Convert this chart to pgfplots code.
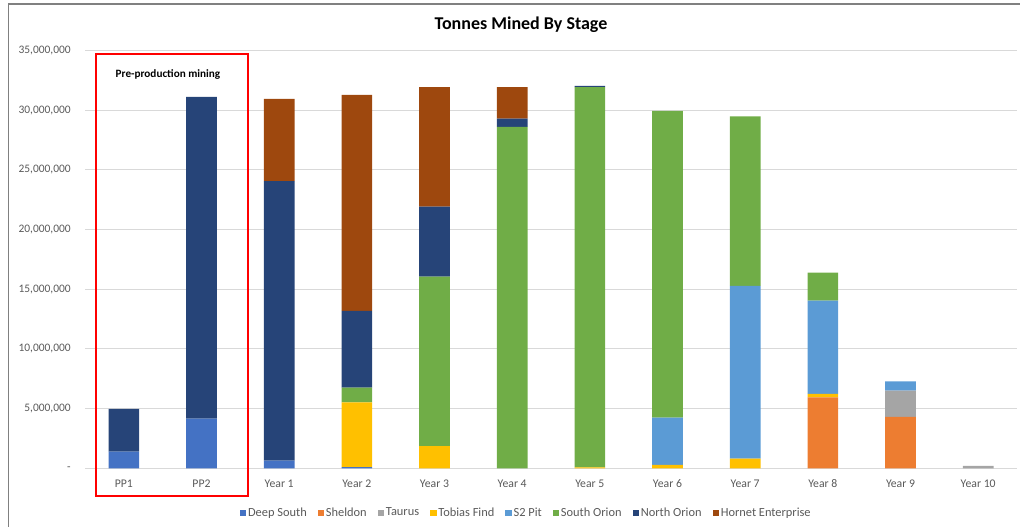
\documentclass[border=0pt]{standalone}
\usepackage{pgfplots}
\pgfplotsset{compat=1.18}
\usepackage{fontspec}
\setmainfont{Carlito}

\definecolor{cDeep}{HTML}{4472C4}
\definecolor{cShel}{HTML}{ED7D31}
\definecolor{cTaur}{HTML}{A5A5A5}
\definecolor{cTobi}{HTML}{FFC000}
\definecolor{cS2}{HTML}{5B9BD5}
\definecolor{cSOr}{HTML}{70AD47}
\definecolor{cNOr}{HTML}{264478}
\definecolor{cHorn}{HTML}{9E480E}
\definecolor{gridc}{HTML}{D9D9D9}
\definecolor{txt}{HTML}{595959}

% picture pixel -> pt (1 px = 0.75 pt, y measured from the top)
\newcommand{\px}[2]{({#1*0.75pt},{(527-#2)*0.75pt})}

\begin{document}
\begin{tikzpicture}
\path[use as bounding box] (0,0) rectangle (765pt,395.25pt);

% chart frame (left and top edges visible)
\draw[line width=1.2pt, color=black!50] \px{8.5}{527} -- \px{8.5}{4} -- \px{1020}{4};

\begin{axis}[
  at={(63.75pt,44.0pt)}, anchor=south west,
  scale only axis, width=699pt, height=313.4pt,
  ybar stacked, bar width=23pt,
  xmin=-0.5, xmax=11.5, ymin=0, ymax=35000000,
  enlargelimits=false, clip=false,
  scaled y ticks=false,
  axis line style={draw=none},
  tick style={draw=none},
  major tick length=0pt,
  ymajorgrids, grid style={gridc, line width=0.75pt},
  ytick={0,5000000,10000000,15000000,20000000,25000000,30000000,35000000},
  yticklabels={-,{5,000,000},{10,000,000},{15,000,000},{20,000,000},{25,000,000},{30,000,000},{35,000,000}},
  xtick={0,...,11},
  xticklabels={PP1,PP2,Year 1,Year 2,Year 3,Year 4,Year 5,Year 6,Year 7,Year 8,Year 9,Year 10},
  yticklabel style={anchor=east, inner sep=0pt, xshift=-10.5pt, font=\fontsize{8.6}{10}\selectfont, text=txt},
  xticklabel style={anchor=north, inner sep=0pt, yshift=-8.25pt, font=\fontsize{8.8}{10}\selectfont, text=txt},
  legend style={at={(0.4732,-0.1069)}, anchor=center, draw=none, fill=none,
    legend columns=-1, font=\fontsize{9.3}{10}\selectfont, text=txt,
    /tikz/every even column/.append style={column sep=7pt},
    nodes={inner sep=1.2pt}},
  legend image code/.code={\fill[#1] (0pt,-2.5pt) rectangle (5pt,2.5pt);},
  every axis plot/.append style={draw=none},
]
\addplot[fill=cDeep] coordinates {(0,1400000) (1,4160000) (2,640000) (3,100000) (4,0) (5,0) (6,0) (7,0) (8,0) (9,0) (10,0) (11,0)};
\addplot[fill=cShel] coordinates {(0,0) (1,0) (2,0) (3,0) (4,0) (5,0) (6,0) (7,0) (8,0) (9,5950000) (10,4300000) (11,0)};
\addplot[fill=cTaur] coordinates {(0,0) (1,0) (2,0) (3,0) (4,0) (5,0) (6,0) (7,0) (8,0) (9,0) (10,2210000) (11,200000)};
\addplot[fill=cTobi] coordinates {(0,0) (1,0) (2,0) (3,5430000) (4,1870000) (5,0) (6,80000) (7,280000) (8,810000) (9,280000) (10,0) (11,0)};
\addplot[fill=cS2] coordinates {(0,0) (1,0) (2,0) (3,0) (4,0) (5,0) (6,0) (7,3970000) (8,14470000) (9,7820000) (10,780000) (11,0)};
\addplot[fill=cSOr] coordinates {(0,0) (1,0) (2,0) (3,1230000) (4,14190000) (5,28600000) (6,31850000) (7,25690000) (8,14190000) (9,2350000) (10,0) (11,0)};
\addplot[fill=cNOr] coordinates {(0,3570000) (1,26960000) (2,23410000) (3,6420000) (4,5870000) (5,700000) (6,100000) (7,0) (8,0) (9,0) (10,0) (11,0)};
\addplot[fill=cHorn] coordinates {(0,0) (1,0) (2,6900000) (3,18100000) (4,10000000) (5,2630000) (6,0) (7,0) (8,0) (9,0) (10,0) (11,0)};
\legend{Deep South,Sheldon,Taurus,Tobias Find,S2 Pit,South Orion,North Orion,Hornet Enterprise}
\end{axis}

% title
\node[font=\bfseries\fontsize{13.5}{15}\selectfont] at \px{521}{25} {Tonnes Mined By Stage};

% pre-production highlight
\draw[red, line width=1.5pt] \px{96}{54} rectangle \px{248}{496};
\node[font=\bfseries\fontsize{8.4}{10}\selectfont] at \px{168}{75} {Pre-production mining};
\end{tikzpicture}
\end{document}
